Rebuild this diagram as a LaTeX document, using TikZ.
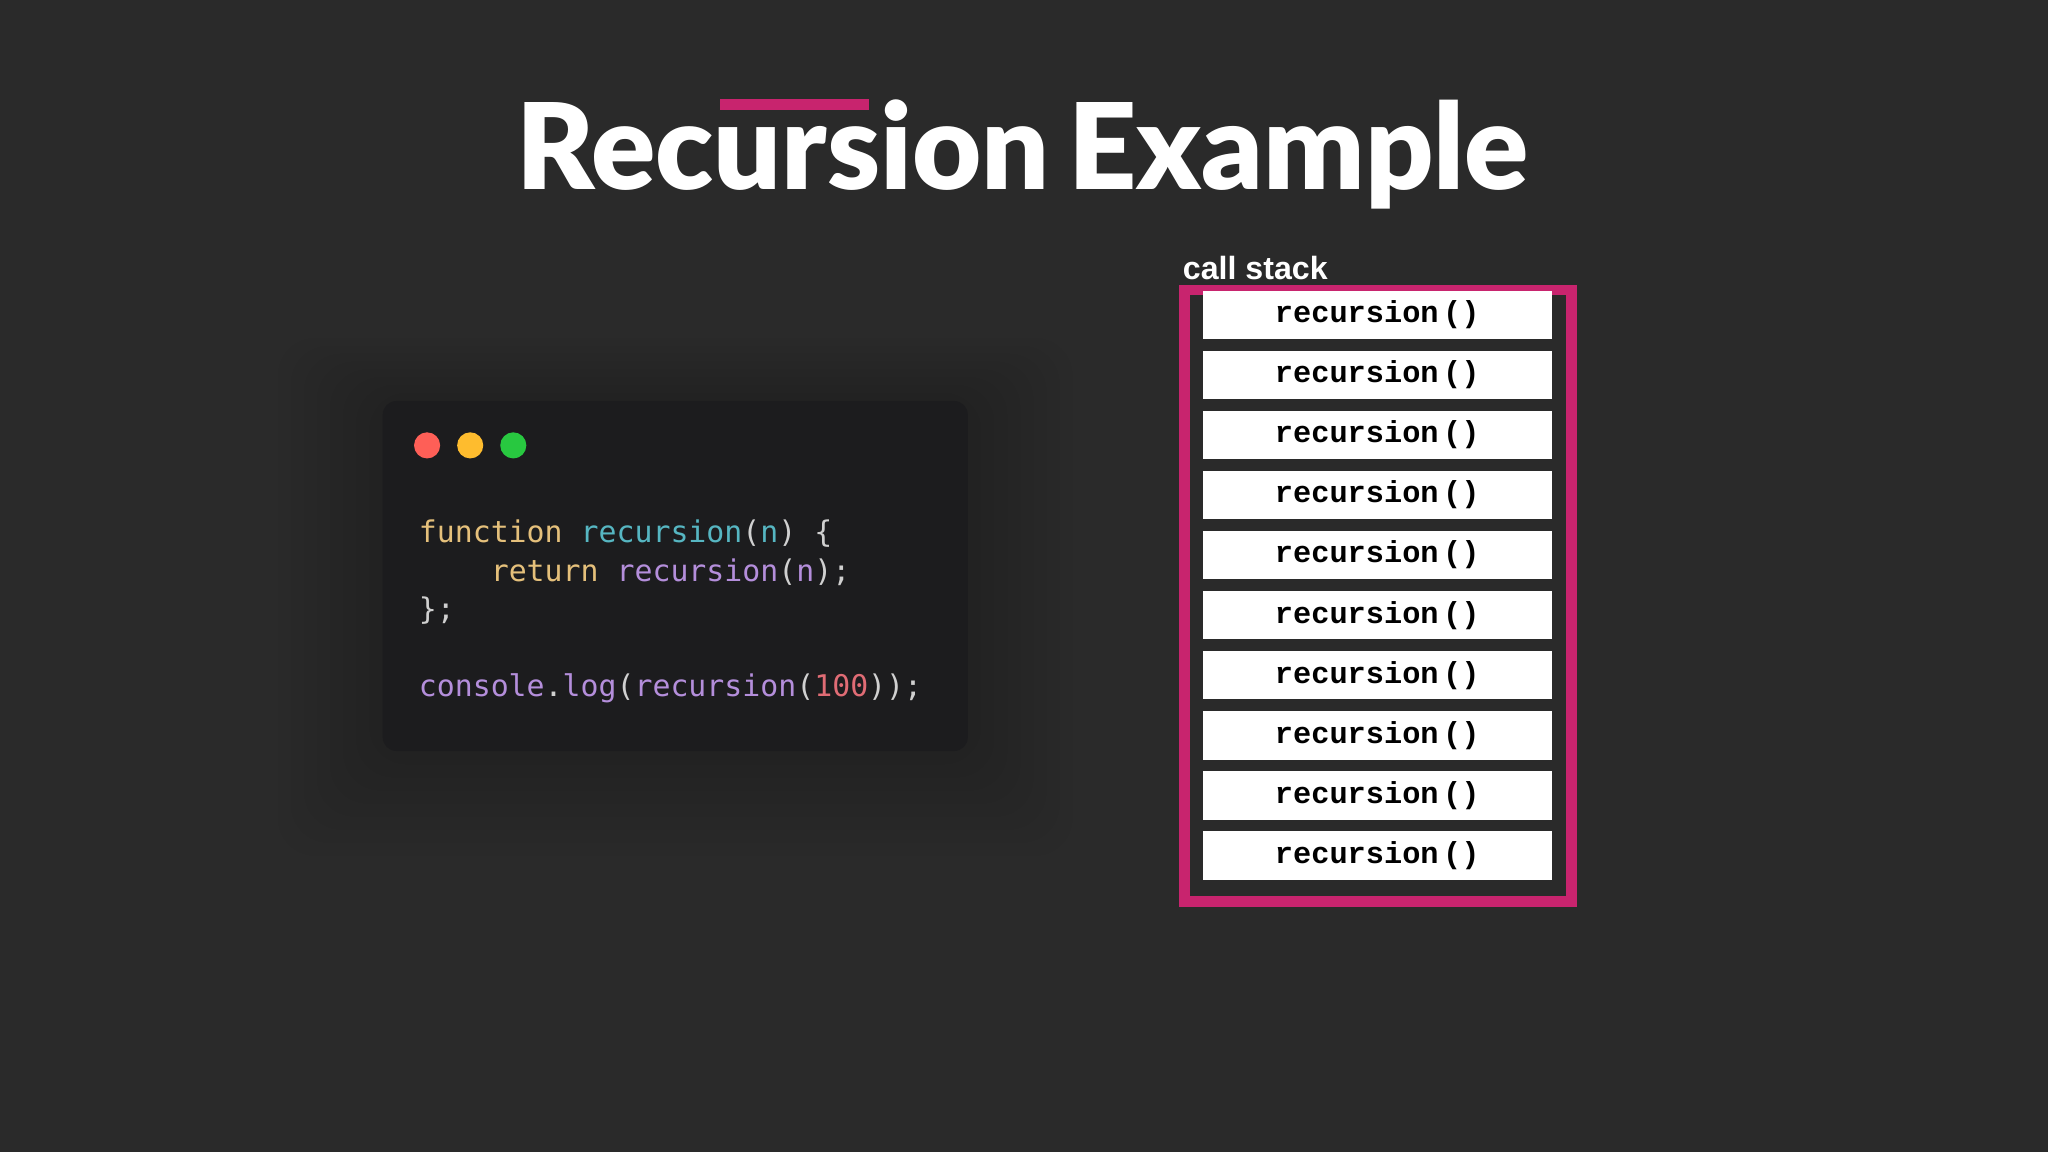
\documentclass[tikz,border=0pt]{standalone}
\usepackage{fontspec}
\setmainfont{Lato}
\newfontfamily\titlefont{Lato Black}
\newfontfamily\codefont{DejaVu Sans Mono}
\newfontfamily\stackfont{Liberation Mono}
\newfontfamily\labelfont{Liberation Sans}
\definecolor{bgdark}{HTML}{2A2A2A}
\definecolor{winbg}{HTML}{1C1C1E}
\definecolor{stackpink}{HTML}{C8246E}
\definecolor{kwyellow}{HTML}{E5C07B}
\definecolor{fncyan}{HTML}{56B6C2}
\definecolor{fnpurple}{HTML}{B48EDB}
\definecolor{numred}{HTML}{E06C75}
\definecolor{plain}{HTML}{D0D0D0}
\definecolor{dotred}{HTML}{FE5F57}
\definecolor{dotyellow}{HTML}{FEBC2E}
\definecolor{dotgreen}{HTML}{28C840}
\begin{document}
\begin{tikzpicture}[x=0.01cm,y=-0.01cm,
  codeline/.style={anchor=base west,inner sep=0pt,font=\codefont\fontsize{6.5}{8}\selectfont,text=plain},
  callbox/.style={draw=none,fill=white,minimum width=2.67cm,minimum height=0.37cm,inner sep=0pt,
    font=\stackfont\bfseries\fontsize{6.6}{8}\selectfont}]
\fill[bgdark] (0,0) rectangle (1568,882);
\useasboundingbox (0,0) rectangle (1568,882);

% title
\node[anchor=base,inner sep=0pt] (title) at (783,145) {\titlefont\fontsize{26}{30}\selectfont\color{white}Recursion\hspace{-2pt} Example};
\fill[stackpink] (551,76) rectangle (665,84);

% code window
\foreach \d in {10,20,...,80}
  \fill[black,opacity=0.025,rounded corners=8pt] (293-\d,307-\d*0.6) rectangle (741+\d,575+\d);
\fill[winbg,rounded corners=3pt] (293,307) rectangle (741,575);
\fill[dotred] (327,341) circle (10);
\fill[dotyellow] (360,341) circle (10);
\fill[dotgreen] (393,341) circle (10);

\node[codeline] (line1) at (320,415) {\textcolor{kwyellow}{function} \textcolor{fncyan}{recursion}(\textcolor{fncyan}{n}) \{};
\node[codeline] (line2) at (320,445) {\ \ \ \ \textcolor{kwyellow}{return} \textcolor{fnpurple}{recursion}(\textcolor{fnpurple}{n});};
\node[codeline] (line3) at (320,474) {\};};
\node[codeline] (line4) at (320,533) {\textcolor{fnpurple}{console}.\textcolor{fnpurple}{log}(\textcolor{fnpurple}{recursion}(\textcolor{numred}{100}));};

% call stack
\node[anchor=base west,inner sep=0pt,text=white,font=\labelfont\bfseries\fontsize{7}{8}\selectfont] (stacklabel) at (905,214) {call stack};
\draw[stackpink,line width=2.3pt] (907,222) rectangle (1203,690);
\foreach \i in {0,...,9}
  \node[callbox] (call\i) at (1054.5,{241+46*\i}) {recursion\hspace{1pt}()};
\end{tikzpicture}
\end{document}
